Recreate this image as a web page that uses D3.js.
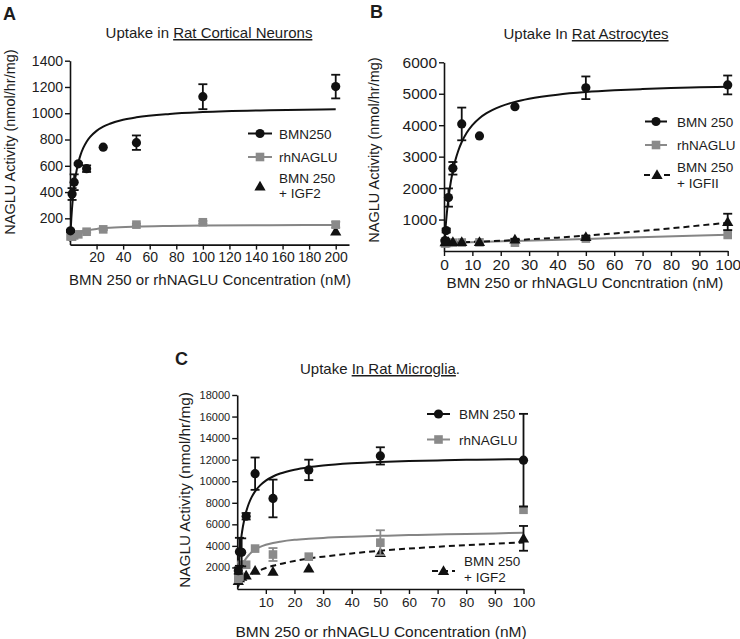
<!DOCTYPE html>
<html><head><meta charset="utf-8">
<script src="https://cdn.jsdelivr.net/npm/d3@7"></script>
<style>
body{margin:0;background:#fff}
svg{display:block}
text{font-family:"Liberation Sans",Arial,sans-serif;fill:#1c1c1c}
</style>
</head><body>
<svg id="chart" width="740" height="639"></svg>
<script>
// ---------------- Panel A : Rat Cortical Neurons ----------------
const concA = [0.39, 1.56, 3.125, 6.25, 12.5, 25, 50, 100, 200];
const bmnA = [105, 385, 475, 615, 578, 742, 776, 1126, 1203];
const bmnAErr = [8, 45, 60, 8, 25, 0, 55, 95, 90];
const rhA = [62, 60, 70, 78, 98, 116, 152, 170, 152];
const rhAErr = [0, 0, 0, 0, 8, 6, 8, 10, 22];
const igfAConc = [200];
const igfA = [100];
const fitABmnConc = [0.1, 0.2, 0.5, 1, 1.5, 2, 3, 4, 5, 6.25, 8, 10, 12.5, 15, 20, 25, 30, 40, 50, 75, 100, 150, 200];
const fitABmn = [24, 47, 110, 199, 273, 335, 433, 508, 566, 624, 685, 736, 783, 818, 866, 898, 920, 950, 969, 995, 1009, 1023, 1030];
const fitARhConc = [0.2, 1, 2, 4, 6.25, 10, 15, 20, 30, 50, 75, 100, 150, 200];
const fitARh = [57, 63, 70, 81, 91, 102, 112, 119, 128, 137, 142, 145, 148, 150];
const xTicksA = [20, 40, 60, 80, 100, 120, 140, 160, 180, 200];
const yTicksA = [200, 400, 600, 800, 1000, 1200, 1400];

// ---------------- Panel B : Rat Astrocytes ----------------
const concB = [0.39, 0.78, 1.56, 3.125, 6.25, 12.5, 25, 50, 100];
const bmnB = [330, 650, 1700, 2630, 4040, 3660, 4590, 5190, 5280];
const bmnBErr = [30, 60, 290, 200, 520, 0, 0, 360, 300];
const rhB = [240, 250, 260, 265, 270, 275, 265, 395, 510];
const rhBErr = [0, 0, 0, 0, 0, 0, 0, 0, 0];
const igfB = [280, 285, 290, 285, 290, 290, 370, 450, 925];
const igfBErr = [0, 0, 0, 0, 0, 0, 20, 30, 260];
const fitBBmnConc = [0.2, 0.5, 1, 1.5, 2, 3, 4, 5, 6.25, 8, 10, 12.5, 15, 20, 25, 30, 40, 50, 60, 70, 80, 90, 100];
const fitBBmn = [292, 676, 1201, 1622, 1966, 2495, 2883, 3180, 3465, 3761, 4005, 4224, 4383, 4600, 4742, 4841, 4971, 5052, 5108, 5149, 5181, 5204, 5223];
const fitBRhConc = [0, 25, 50, 75, 100];
const fitBRh = [255, 320, 385, 450, 515];
const fitBIgfConc = [0, 10, 20, 30, 40, 50, 60, 70, 80, 90, 100];
const fitBIgf = [265, 290, 325, 370, 425, 490, 560, 640, 720, 810, 900];
const xTicksB = [0, 10, 20, 30, 40, 50, 60, 70, 80, 90, 100];
const yTicksB = [1000, 2000, 3000, 4000, 5000, 6000];

// ---------------- Panel C : Rat Microglia ----------------
const concC = [0.39, 0.78, 1.56, 3.125, 6.25, 12.5, 25, 50, 100];
const bmnC = [1700, 3450, 3400, 6750, 10700, 8400, 11050, 12350, 11950];
const bmnCErr = [300, 1300, 1300, 300, 1500, 1750, 950, 800, 4300];
const rhC = [950, 1150, 2250, 2250, 3750, 3200, 3000, 4300, 7350];
const rhCErr = [0, 0, 200, 0, 0, 600, 0, 1150, 0];
const igfC = [750, 1000, 1150, 1250, 1690, 1600, 1900, 3350, 4700];
const igfCErr = [0, 0, 0, 0, 0, 0, 0, 0, 1150];
const fitCBmnConc = [0.1, 0.25, 0.5, 0.75, 1, 1.5, 2, 3, 4, 5, 6.25, 8, 10, 12.5, 15, 20, 25, 30, 40, 50, 60, 70, 80, 90, 100];
const fitCBmn = [524, 1232, 2240, 3080, 3790, 4927, 5797, 7039, 7884, 8496, 9058, 9614, 10056, 10439, 10711, 11072, 11301, 11459, 11662, 11788, 11873, 11934, 11981, 12017, 12047];
const fitCRhConc = [1.56, 2, 3, 4, 5, 6.25, 8, 10, 12.5, 15, 20, 25, 30, 40, 50, 60, 70, 80, 90, 100];
const fitCRh = [2200, 2400, 2800, 3130, 3400, 3650, 3900, 4100, 4270, 4390, 4560, 4660, 4740, 4850, 4930, 5000, 5060, 5110, 5160, 5210];
const fitCIgfConc = [0.2, 1, 2, 3.125, 5, 6.25, 8, 10, 12.5, 15, 20, 25, 30, 40, 50, 60, 70, 80, 90, 100];
const fitCIgf = [150, 600, 850, 1100, 1400, 1560, 1750, 1950, 2150, 2320, 2600, 2830, 3000, 3300, 3550, 3750, 3920, 4070, 4200, 4320];
const xTicksC = [10, 20, 30, 40, 50, 60, 70, 80, 90, 100];
const yTicksC = [2000, 4000, 6000, 8000, 10000, 12000, 14000, 16000, 18000];

// ---------------- drawing ----------------
const svg = d3.select('#chart');
const BLACK = '#111111', GRAY = '#8a8a8a', GRAYLINE = '#858585';
const fmt = d3.format('d');

function styleAxis(sel, fs) {
  sel.select('.domain').attr('stroke', BLACK).attr('stroke-width', 1.6);
  sel.selectAll('.tick line').attr('stroke', BLACK).attr('stroke-width', 1.4);
  sel.selectAll('.tick text').style('font-size', fs + 'px').attr('fill', '#1c1c1c');
}

function panel(p) {
  const x = d3.scaleLinear().domain(p.xDomain).range(p.xRange);
  const y = d3.scaleLinear().domain(p.yDomain).range(p.yRange);
  const g = svg.append('g');

  g.append('g').attr('transform', `translate(0,${p.yRange[0]})`)
    .call(d3.axisBottom(x).tickValues(p.xTicks).tickFormat(fmt).tickSize(5).tickPadding(p.xPad).tickSizeOuter(0))
    .call(styleAxis, p.xFont);
  g.append('g').attr('transform', `translate(${p.xRange[0]},0)`)
    .call(d3.axisLeft(y).tickValues(p.yTicks).tickFormat(fmt).tickSize(5).tickPadding(2).tickSizeOuter(0))
    .call(styleAxis, p.yFont);

  const line = d3.line().x(d => x(d[0])).y(d => y(d[1])).curve(d3.curveMonotoneX);
  p.curves.forEach(c => {
    g.append('path').attr('d', line(d3.zip(c.xs, c.ys)))
      .attr('fill', 'none').attr('stroke', c.color).attr('stroke-width', c.w || 2)
      .attr('stroke-dasharray', c.dash || null);
  });

  p.series.forEach(s => {
    const pts = d3.zip(s.xs, s.ys, s.err || s.xs.map(() => 0));
    pts.forEach(([cx, cy, e]) => {
      if (e > 0) {
        const px = x(cx), y1 = y(cy + e), y2 = y(cy - e);
        g.append('line').attr('x1', px).attr('x2', px).attr('y1', y1).attr('y2', y2)
          .attr('stroke', s.color).attr('stroke-width', 1.8);
        [y1, y2].forEach(yy => g.append('line').attr('x1', px - 4.5).attr('x2', px + 4.5)
          .attr('y1', yy).attr('y2', yy).attr('stroke', s.color).attr('stroke-width', 1.8));
      }
    });
    pts.forEach(([cx, cy]) => marker(g, s.shape, x(cx), y(cy), s.color));
  });
}

function marker(g, shape, px, py, color) {
  if (shape === 'circle') {
    g.append('circle').attr('cx', px).attr('cy', py).attr('r', 4.6).attr('fill', color);
  } else if (shape === 'square') {
    g.append('rect').attr('x', px - 4.3).attr('y', py - 4.3).attr('width', 8.6).attr('height', 8.6).attr('fill', color);
  } else {
    g.append('path').attr('d', d3.symbol(d3.symbolTriangle).size(55)())
      .attr('transform', `translate(${px},${py + 0.8})`).attr('fill', color);
  }
}

function legendItem(x0, x1, yy, shape, color, dash) {
  if (x1 > x0) svg.append('line').attr('x1', x0).attr('x2', x1).attr('y1', yy).attr('y2', yy)
    .attr('stroke', color).attr('stroke-width', 2).attr('stroke-dasharray', dash || null);
  marker(svg, shape, (x0 + x1) / 2, yy, color);
}

function txt(x, y, s, fs, opts = {}) {
  const t = svg.append('text').attr('x', x).attr('y', y).style('font-size', fs + 'px');
  if (opts.anchor) t.attr('text-anchor', opts.anchor);
  if (opts.bold) t.style('font-weight', 'bold');
  if (opts.rotate) t.attr('transform', `rotate(-90,${x},${y})`);
  if (Array.isArray(s)) {
    s.forEach(part => {
      const ts = t.append('tspan').text(part.t);
      if (part.u) ts.style('text-decoration', 'underline');
    });
  } else t.text(s);
  return t;
}

// Panel A
panel({
  xDomain: [0, 210], xRange: [70, 349], yDomain: [0, 1400], yRange: [244.6, 60.7],
  xTicks: xTicksA, yTicks: yTicksA, xFont: 14, yFont: 14, xPad: 2,
  curves: [
    {xs: fitARhConc, ys: fitARh, color: GRAYLINE},
    {xs: fitABmnConc, ys: fitABmn, color: BLACK}
  ],
  series: [
    {xs: igfAConc, ys: igfA, shape: 'triangle', color: BLACK},
    {xs: concA, ys: rhA, err: rhAErr, shape: 'square', color: GRAY},
    {xs: concA, ys: bmnA, err: bmnAErr, shape: 'circle', color: BLACK}
  ]
});
txt(3, 20, 'A', 18, {bold: true});
txt(209, 38, [{t: 'Uptake in '}, {t: 'Rat Cortical Neurons', u: true}], 15, {anchor: 'middle'});
txt(15, 142, 'NAGLU Activity (nmol/hr/mg)', 14.5, {anchor: 'middle', rotate: true});
txt(210, 285, 'BMN 250 or rhNAGLU Concentration (nM)', 15, {anchor: 'middle'});
legendItem(248, 272, 133.5, 'circle', BLACK);
txt(279, 138.5, 'BMN250', 13.5);
legendItem(248, 272, 157, 'square', GRAY);
txt(279, 162, 'rhNAGLU', 13.5);
legendItem(260, 260, 186.5, 'triangle', BLACK);
txt(279, 182.5, 'BMN 250', 13.5);
txt(279, 198, '+ IGF2', 13.5);

// Panel B
panel({
  xDomain: [0, 100], xRange: [444, 727.7], yDomain: [0, 6000], yRange: [251, 62.3],
  xTicks: xTicksB, yTicks: yTicksB, xFont: 15.5, yFont: 15.5, xPad: 3,
  curves: [
    {xs: fitBRhConc, ys: fitBRh, color: GRAYLINE},
    {xs: fitBIgfConc, ys: fitBIgf, color: BLACK, dash: '6,4'},
    {xs: fitBBmnConc, ys: fitBBmn, color: BLACK}
  ],
  series: [
    {xs: concB, ys: rhB, err: rhBErr, shape: 'square', color: GRAY},
    {xs: concB, ys: igfB, err: igfBErr, shape: 'triangle', color: BLACK},
    {xs: concB, ys: bmnB, err: bmnBErr, shape: 'circle', color: BLACK}
  ]
});
txt(370, 18, 'B', 18, {bold: true});
txt(586, 39, [{t: 'Uptake In '}, {t: 'Rat Astrocytes', u: true}], 15, {anchor: 'middle'});
txt(379, 150, 'NAGLU Activity (nmol/hr/mg)', 14.5, {anchor: 'middle', rotate: true});
txt(585, 288, 'BMN 250 or rhNAGLU Concntration (nM)', 15.2, {anchor: 'middle'});
legendItem(645, 667, 121.5, 'circle', BLACK);
txt(677, 126.5, 'BMN 250', 13.5);
legendItem(645, 667, 145, 'square', GRAY);
txt(677, 150, 'rhNAGLU', 13.5);
legendItem(644, 670, 175, 'triangle', BLACK, '6,4');
txt(677, 172, 'BMN 250', 13.5);
txt(677, 188, '+ IGFII', 13.5);

// Panel C
panel({
  xDomain: [0, 100], xRange: [237.2, 523.5], yDomain: [0, 18000], yRange: [589, 395],
  xTicks: xTicksC, yTicks: yTicksC, xFont: 13.5, yFont: 11, xPad: 3,
  curves: [
    {xs: fitCIgfConc, ys: fitCIgf, color: BLACK, dash: '6,4'},
    {xs: fitCRhConc, ys: fitCRh, color: GRAYLINE},
    {xs: fitCBmnConc, ys: fitCBmn, color: BLACK}
  ],
  series: [
    {xs: concC, ys: igfC, err: igfCErr, shape: 'triangle', color: BLACK},
    {xs: concC, ys: rhC, err: rhCErr, shape: 'square', color: GRAY},
    {xs: concC, ys: bmnC, err: bmnCErr, shape: 'circle', color: BLACK}
  ]
});
txt(175, 365, 'C', 18, {bold: true});
txt(380, 374, [{t: 'Uptake '}, {t: 'In Rat Microglia', u: true}, {t: '.'}], 15, {anchor: 'middle'});
txt(190, 490, 'NAGLU Activity (nmol/hr/mg)', 15.3, {anchor: 'middle', rotate: true});
txt(381, 637, 'BMN 250 or rhNAGLU Concentration (nM)', 15.5, {anchor: 'middle'});
legendItem(427, 450, 414, 'circle', BLACK);
txt(459, 419, 'BMN 250', 13.5);
legendItem(427, 450, 439.5, 'square', GRAY);
txt(459, 444.5, 'rhNAGLU', 13.5);
legendItem(432, 455, 571, 'triangle', BLACK, '6,4');
txt(464, 566, 'BMN 250', 13.5);
txt(464, 581.5, '+ IGF2', 13.5);
</script>
</body></html>
